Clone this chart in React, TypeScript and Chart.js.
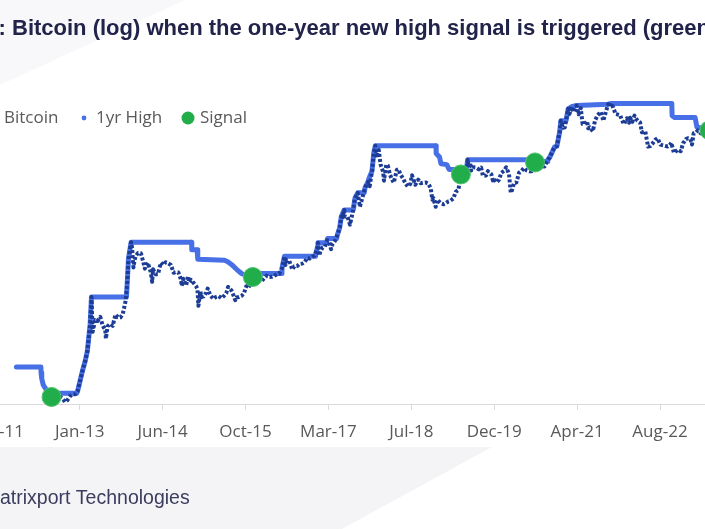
import React, { useEffect, useRef } from 'react';
import { Chart, registerables } from 'chart.js';

Chart.register(...registerables);

// ---------- data ----------
const btcDates = [
  '2012-01-12','2012-02-01','2012-02-18','2012-03-01','2012-03-15','2012-04-01','2012-04-15','2012-05-01','2012-05-15','2012-06-01','2012-06-15','2012-07-01','2012-07-15','2012-08-01','2012-08-11','2012-08-16','2012-08-19','2012-09-01','2012-09-15','2012-10-01','2012-10-15','2012-11-01','2012-11-15','2012-12-01','2012-12-15',
  '2013-01-01','2013-01-15','2013-02-01','2013-02-15','2013-03-01','2013-03-15','2013-04-01','2013-04-09','2013-04-16','2013-05-01','2013-05-15','2013-06-01','2013-06-15','2013-07-01','2013-07-05','2013-07-15','2013-08-01','2013-08-15','2013-09-01','2013-09-15','2013-10-01','2013-10-15','2013-11-01','2013-11-10','2013-11-18','2013-11-22','2013-12-04','2013-12-10','2013-12-18','2013-12-25',
  '2014-01-01','2014-01-15','2014-02-01','2014-02-15','2014-02-25','2014-03-01','2014-03-15','2014-04-01','2014-04-10','2014-04-15','2014-05-01','2014-05-15','2014-06-01','2014-06-15','2014-07-01','2014-07-15','2014-08-01','2014-08-18','2014-09-01','2014-09-15','2014-10-01','2014-10-05','2014-10-15','2014-11-01','2014-11-12','2014-11-20','2014-12-01','2014-12-15','2014-12-31',
  '2015-01-08','2015-01-14','2015-01-26','2015-02-01','2015-02-15','2015-03-01','2015-03-11','2015-03-25','2015-04-14','2015-05-01','2015-05-15','2015-06-01','2015-06-15','2015-07-01','2015-07-12','2015-08-01','2015-08-18','2015-08-24','2015-09-01','2015-09-15','2015-10-01','2015-10-15','2015-11-01','2015-11-04','2015-11-11','2015-11-20','2015-12-01','2015-12-08','2015-12-15',
  '2016-01-01','2016-01-15','2016-02-01','2016-02-15','2016-03-01','2016-03-15','2016-04-01','2016-04-15','2016-05-01','2016-05-15','2016-06-01','2016-06-16','2016-06-22','2016-07-01','2016-07-15','2016-08-02','2016-08-15','2016-09-01','2016-09-15','2016-10-01','2016-10-15','2016-11-01','2016-11-15','2016-12-01','2016-12-15',
  '2017-01-01','2017-01-04','2017-01-11','2017-01-20','2017-02-01','2017-02-15','2017-03-01','2017-03-10','2017-03-24','2017-04-01','2017-04-15','2017-05-01','2017-05-15','2017-05-25','2017-06-01','2017-06-11','2017-06-15','2017-07-01','2017-07-16','2017-08-01','2017-08-15','2017-09-01','2017-09-14','2017-10-01','2017-10-15','2017-11-01','2017-11-12','2017-11-26','2017-12-07','2017-12-16','2017-12-22',
  '2018-01-06','2018-01-16','2018-02-01','2018-02-06','2018-02-20','2018-03-01','2018-03-15','2018-04-01','2018-04-06','2018-04-25','2018-05-05','2018-05-15','2018-06-01','2018-06-15','2018-06-29','2018-07-15','2018-07-25','2018-08-14','2018-09-01','2018-09-15','2018-10-01','2018-10-15','2018-11-01','2018-11-15','2018-11-25','2018-12-01','2018-12-15','2018-12-24',
  '2019-01-01','2019-01-15','2019-02-01','2019-02-15','2019-03-01','2019-03-15','2019-04-01','2019-04-15','2019-05-01','2019-05-16','2019-06-01','2019-06-15','2019-06-26','2019-07-01','2019-07-15','2019-07-17','2019-08-01','2019-08-15','2019-09-01','2019-09-15','2019-09-26','2019-10-15','2019-10-26','2019-11-15','2019-11-25','2019-12-01','2019-12-17',
  '2020-01-01','2020-01-15','2020-02-01','2020-02-13','2020-03-01','2020-03-12','2020-03-16','2020-04-01','2020-04-15','2020-05-01','2020-05-15','2020-06-01','2020-06-15','2020-07-01','2020-07-15','2020-08-01','2020-08-05','2020-08-17','2020-09-05','2020-09-15','2020-10-01','2020-10-21','2020-11-01','2020-11-15','2020-12-01','2020-12-15',
  '2021-01-01','2021-01-08','2021-01-22','2021-02-01','2021-02-15','2021-02-21','2021-03-01','2021-03-13','2021-03-25','2021-04-13','2021-04-25','2021-05-08','2021-05-19','2021-06-01','2021-06-15','2021-06-22','2021-07-01','2021-07-20','2021-08-01','2021-08-15','2021-09-06','2021-09-21','2021-10-01','2021-10-20','2021-11-01','2021-11-08','2021-11-20','2021-12-04','2021-12-15',
  '2022-01-01','2022-01-10','2022-01-24','2022-02-10','2022-02-24','2022-03-01','2022-03-15','2022-03-28','2022-04-15','2022-05-01','2022-05-12','2022-06-01','2022-06-18','2022-07-01','2022-07-15','2022-08-01','2022-08-14','2022-09-01','2022-09-15','2022-10-01','2022-10-15','2022-11-01','2022-11-05','2022-11-21','2022-12-15',
  '2023-01-01','2023-01-15','2023-02-01','2023-02-15','2023-03-01','2023-03-10','2023-03-20','2023-04-01','2023-04-14','2023-05-01','2023-05-15','2023-06-01','2023-06-15','2023-06-23','2023-07-13','2023-08-01',
];
const btcValues = [
  6.8,6.1,4.4,4.9,5.3,4.9,4.9,5.0,5.0,5.3,6.5,6.7,7.6,9.4,11.5,13.5,10.0,10.1,11.8,12.4,11.8,10.6,11.2,12.6,13.3,
  13.3,14.5,20.4,27.1,34.5,47,104,230,83,117,114,129,100,88,68,98,105,99,138,127,127,141,206,330,700,800,1150,970,550,680,
  770,840,830,650,530,560,630,480,360,520,450,450,630,590,640,620,590,470,480,475,385,320,395,325,423,355,380,350,317,
  290,178,270,230,235,260,296,247,218,232,237,223,236,258,310,280,230,210,228,230,238,255,325,403,305,325,360,415,445,
  433,375,372,400,432,415,417,428,450,456,536,760,590,677,665,515,568,572,607,614,640,730,712,752,780,
  998,1130,780,895,985,1008,1220,1190,940,1080,1180,1420,1760,2450,2400,2960,2440,2430,1930,2720,4180,4900,3250,4400,5700,6700,5950,9300,16000,19500,13800,
  17200,11400,9100,7000,11200,10900,8250,6900,6600,9600,9800,8500,7500,6500,5900,6350,8200,6200,7200,6500,6600,6650,6400,5600,4000,4200,3250,4000,
  3850,3600,3500,3620,3820,3900,4150,5050,5350,8400,8550,8800,12900,10600,10900,9400,10400,10300,9750,10300,8050,8150,9250,8500,7050,7400,6650,
  7200,8800,9350,10350,8550,4900,5000,6600,6650,8850,9300,10200,9450,9230,9200,11800,11950,12300,10100,10800,10600,12900,13750,15950,18800,19250,
  29300,40600,33000,33500,48700,57500,49600,61200,52300,63500,49000,58800,37000,36700,40200,32500,33500,29800,39900,47000,52700,40500,48100,65900,61000,67500,59800,49400,48900,
  47700,41800,36700,43600,38300,44400,39300,47100,40500,38500,28900,29800,19000,19300,20800,23300,24300,20100,19700,19300,19100,20500,21300,15800,17400,
  16600,20900,23700,24300,23600,20200,28100,28500,30500,28100,27200,26800,25100,30700,31400,29700,
];

const highDates = [
  '2012-01-12','2012-06-08','2012-06-09','2012-06-13','2012-06-22','2012-07-08','2012-07-22','2012-08-04','2012-08-11','2012-08-16',
  '2013-01-10','2013-01-15','2013-02-01','2013-02-15','2013-03-01','2013-03-15','2013-04-01','2013-04-09','2013-11-06','2013-11-10','2013-11-18','2013-11-22','2013-12-04',
  '2014-12-04','2014-12-05','2015-01-06','2015-01-10','2015-06-20','2015-07-10','2015-08-01','2015-09-01','2015-10-01','2015-11-12','2015-11-13','2015-12-08','2015-12-16',
  '2016-05-27','2016-06-01','2016-06-16','2016-12-20','2017-01-01','2017-01-04','2017-02-23','2017-03-03','2017-04-26','2017-05-01','2017-05-15','2017-05-25','2017-06-11',
  '2017-08-05','2017-08-15','2017-09-01','2017-10-10','2017-10-15','2017-11-01','2017-11-07','2017-11-26','2017-12-07','2017-12-16',
  '2018-12-17','2018-12-18','2019-01-07','2019-01-16','2019-02-20','2019-03-06','2019-05-06','2019-05-07','2019-05-16','2019-06-01','2019-06-15','2019-06-26',
  '2020-06-26','2020-06-27','2020-07-10','2020-08-05','2020-08-17','2020-10-20','2020-10-21','2020-11-01','2020-11-15','2020-12-01','2020-12-15',
  '2021-01-01','2021-01-08','2021-02-08','2021-02-15','2021-02-21','2021-03-13','2021-04-13','2021-10-20','2021-11-08',
  '2022-11-08','2022-11-10','2022-11-25','2023-03-29','2023-04-08','2023-06-01','2023-06-10','2023-06-23','2023-07-13','2023-08-01',
];
const highValues = [
  29.6,29.6,25,21,17.5,15.5,14.5,13,12.3,13.7,
  13.7,14.5,20.4,27.1,34.5,47,104,230,230,330,700,800,1150,
  1150,920,920,700,680,650,600,520,460,423,403,415,460,
  460,536,760,760,998,1130,1130,1280,1280,1420,1760,2450,2960,
  2960,4180,4900,4900,5700,6700,7400,9300,16000,19500,
  19500,15500,14000,11500,11200,9700,9700,8700,8400,8550,8800,12900,
  12900,12100,11800,11950,12300,12300,12900,13750,15950,18800,19250,
  29300,40600,40600,48700,57500,61200,63500,65900,67500,
  67500,47000,44500,44500,34000,31500,30600,30700,31400,31400,
];

const signalDates = ['2012-08-11', '2015-12-08', '2019-05-16', '2020-08-05', '2023-06-23'];
const signalValues = [12.3, 415, 8400, 11950, 30700];

const tickDates = ['2011-09-16', '2013-01-28', '2014-06-12', '2015-10-25', '2017-03-08', '2018-07-21', '2019-12-03', '2021-04-16', '2022-08-29', '2024-01-11'];
const tickLabels = ['Sep-11', 'Jan-13', 'Jun-14', 'Oct-15', 'Mar-17', 'Jul-18', 'Dec-19', 'Apr-21', 'Aug-22', 'Jan-24'];

const titleText = 'Exhibit 1: Bitcoin (log) when the one-year new high signal is triggered (green dots)';
const titlePrefix = 'Exhibit 1: ';
const sourceText = 'Source: Matrixport Technologies';
const sourcePrefix = 'Source: M';
const legendLabels = ['Bitcoin', '1yr High', 'Signal'];

// ---------- helpers ----------
const BASE = Date.UTC(2013, 0, 28);
const dayOf = (s: string) => {
  const [y, m, d] = s.split('-').map(Number);
  return Math.round((Date.UTC(y, m - 1, d) - BASE) / 86400000);
};
const pts = (dates: string[], vals: number[]) => dates.map((d, i) => ({ x: dayOf(d), y: vals[i] }));
const tickDays = tickDates.map(dayOf);

const OFFSET_X = 150; // canvas x = page x + OFFSET_X
const CANVAS_W = 1005;
const CANVAS_H = 529;

const COL_BTC = '#1d3c96';
const COL_HIGH = '#4870e6';
const COL_SIG = '#22ad4b';

const decorPlugin = {
  id: 'decor',
  beforeDraw(chart: any) {
    const ctx = chart.ctx as CanvasRenderingContext2D;
    ctx.save();
    ctx.translate(OFFSET_X, 0);
    ctx.fillStyle = '#f8f8fa';
    ctx.beginPath();
    ctx.moveTo(-OFFSET_X, 0);
    ctx.lineTo(185, 0);
    ctx.lineTo(0, 85);
    ctx.lineTo(-OFFSET_X, 85);
    ctx.closePath();
    ctx.fill();
    ctx.fillStyle = '#f4f4f6';
    ctx.beginPath();
    ctx.moveTo(-OFFSET_X, 447);
    ctx.lineTo(492, 447);
    ctx.lineTo(342, 529);
    ctx.lineTo(-OFFSET_X, 529);
    ctx.closePath();
    ctx.fill();
    ctx.restore();
  },
  afterDraw(chart: any) {
    const ctx = chart.ctx as CanvasRenderingContext2D;
    ctx.save();
    ctx.translate(OFFSET_X, 0);
    // title
    ctx.font = 'bold 22px "Liberation Sans", Arial, sans-serif';
    ctx.fillStyle = '#22234a';
    ctx.textBaseline = 'alphabetic';
    ctx.textAlign = 'left';
    const pw = ctx.measureText(titlePrefix).width;
    ctx.fillText(titleText, 12 - pw, 35);
    // legend
    ctx.font = '17px "Open Sans", sans-serif';
    ctx.fillStyle = '#595959';
    ctx.textBaseline = 'middle';
    const ly = 118;
    ctx.fillText(legendLabels[0], 4, ly);
    ctx.beginPath();
    ctx.fillStyle = COL_HIGH;
    ctx.arc(84, ly, 2.4, 0, Math.PI * 2);
    ctx.fill();
    ctx.fillStyle = '#595959';
    ctx.fillText(legendLabels[1], 96, ly);
    ctx.beginPath();
    ctx.fillStyle = COL_SIG;
    ctx.arc(188, ly, 6.5, 0, Math.PI * 2);
    ctx.fill();
    ctx.fillStyle = '#595959';
    ctx.fillText(legendLabels[2], 200, ly);
    // source
    ctx.font = '19.5px "Liberation Sans", Arial, sans-serif';
    ctx.fillStyle = '#3b3c5e';
    ctx.textBaseline = 'alphabetic';
    const sw = ctx.measureText(sourcePrefix).width;
    ctx.fillText(sourceText, 0 - sw, 504);
    ctx.restore();
  },
};

export default function App() {
  const ref = useRef<HTMLCanvasElement>(null);
  useEffect(() => {
    if (!ref.current) return;
    const chart = new Chart(ref.current, {
      type: 'line',
      data: {
        datasets: [
          {
            label: 'Signal',
            data: pts(signalDates, signalValues),
            showLine: false,
            pointRadius: 9.5,
            pointBackgroundColor: COL_SIG,
            pointBorderColor: '#52c26f',
            pointBorderWidth: 1,
            clip: false,
            order: 1,
          } as any,
          {
            label: 'Bitcoin',
            data: pts(btcDates, btcValues),
            borderColor: COL_BTC,
            borderWidth: 4,
            borderDash: [3, 2],
            borderJoinStyle: 'round',
            pointRadius: 0,
            tension: 0,
            order: 2,
          },
          {
            label: '1yr High',
            data: pts(highDates, highValues),
            borderColor: COL_HIGH,
            borderWidth: 5,
            borderJoinStyle: 'round',
            borderCapStyle: 'round',
            pointRadius: 0,
            tension: 0,
            order: 3,
          },
        ],
      },
      options: {
        animation: false,
        responsive: false,
        maintainAspectRatio: false,
        layout: { padding: { left: 40, right: 40, top: 90, bottom: 74.6 } },
        plugins: { legend: { display: false }, title: { display: false }, tooltip: { enabled: false } },
        events: [],
        scales: {
          x: {
            type: 'linear',
            min: -1144.2,
            max: 4434.8,
            afterBuildTicks: (scale: any) => {
              scale.ticks = tickDays.map((v) => ({ value: v }));
            },
            ticks: {
              autoSkip: false,
              maxRotation: 0,
              padding: 12,
              color: '#595959',
              font: { family: '"Open Sans", sans-serif', size: 17 },
              callback: (v: any) => {
                const i = tickDays.indexOf(Number(v));
                return i >= 0 ? tickLabels[i] : '';
              },
            },
            grid: { drawOnChartArea: false, drawTicks: true, tickLength: 6, color: '#d9d9d9' },
            border: { color: '#d9d9d9', width: 1 },
          },
          y: {
            type: 'logarithmic',
            min: 10,
            max: 100000,
            display: false,
          },
        },
      },
      plugins: [decorPlugin],
    } as any);
    return () => chart.destroy();
  }, []);
  return (
    <div style={{ position: 'fixed', left: 0, top: 0, width: 705, height: 529, overflow: 'hidden', background: '#ffffff' }}>
      <canvas
        ref={ref}
        width={CANVAS_W}
        height={CANVAS_H}
        style={{ position: 'absolute', left: -OFFSET_X, top: 0, width: CANVAS_W, height: CANVAS_H, display: 'block' }}
      />
    </div>
  );
}
